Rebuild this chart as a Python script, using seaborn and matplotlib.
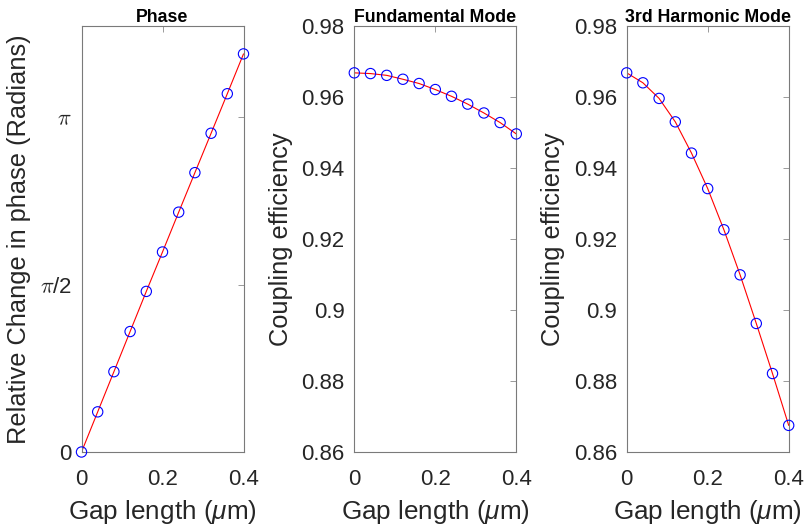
import numpy as np
import matplotlib
matplotlib.use("Agg")
import matplotlib.pyplot as plt
import seaborn as sns

# datos
gap = [0.0, 0.04, 0.08, 0.12, 0.16, 0.20, 0.24, 0.28, 0.32, 0.36, 0.40]
phase = [0.0, 0.377, 0.754, 1.131, 1.508, 1.878, 2.252, 2.623, 2.993, 3.364, 3.738]
fundamental = [0.9668, 0.9666, 0.9661, 0.9650, 0.9638, 0.9621, 0.9602, 0.9580, 0.9555, 0.9528, 0.9496]
harmonic3 = [0.9668, 0.9640, 0.9596, 0.9530, 0.9442, 0.9342, 0.9226, 0.9099, 0.8962, 0.8821, 0.8675]

titles = ["Phase", "Fundamental Mode", "3rd Harmonic Mode"]
xlabel = "Gap length ($\\mu$m)"
ylabels = ["Relative Change in phase (Radians)", "Coupling efficiency", "Coupling efficiency"]
phase_ticklabels = ["0", "$\\pi$/2", "$\\pi$"]
eff_ticks = [0.86, 0.88, 0.9, 0.92, 0.94, 0.96, 0.98]
eff_ticklabels = ["0.86", "0.88", "0.9", "0.92", "0.94", "0.96", "0.98"]

sns.set_theme(style="white")
plt.rcParams['font.family'] = ['Liberation Sans', 'DejaVu Sans']
plt.rcParams['mathtext.fontset'] = 'custom'
plt.rcParams['mathtext.rm'] = 'Liberation Sans'
plt.rcParams['mathtext.it'] = 'Liberation Sans:italic'

fig = plt.figure(figsize=(8.07, 5.25), dpi=100)
lefts = [81.5 / 807, 354.3 / 807, 626.7 / 807]
width = 162 / 807
bottom = 1 - 452 / 525
height = (452 - 26) / 525

series = [phase, fundamental, harmonic3]
text_col = "#262626"
for i, ys in enumerate(series):
    ax = fig.add_axes([lefts[i], bottom, width, height])
    sns.lineplot(x=gap, y=ys, ax=ax, color="red", linewidth=0.8)
    sns.scatterplot(x=gap, y=ys, ax=ax, marker="o", s=55, facecolors="none",
                    edgecolors="blue", linewidth=0.8, zorder=3, clip_on=False)
    ax.set_xlim(0, 0.4)
    ax.set_xticks([0, 0.2, 0.4])
    ax.set_xticklabels(["0", "0.2", "0.4"])
    if i == 0:
        ax.set_ylim(0, 4)
        ax.set_yticks([0, np.pi / 2, np.pi])
        ax.set_yticklabels(phase_ticklabels)
        # pi estilo TeX como en MATLAB
        for t in ax.get_yticklabels():
            t.set_math_fontfamily("cm")
    else:
        ax.set_ylim(0.86, 0.98)
        ax.set_yticks(eff_ticks)
        ax.set_yticklabels(eff_ticklabels)
    for sp in ax.spines.values():
        sp.set_color("#7a7a7a")
        sp.set_linewidth(0.8)
    ax.tick_params(direction="in", length=4, width=0.6, color="#8a8a8a",
                   top=True, right=True, labelsize=16, labelcolor=text_col, pad=7)
    ax.tick_params(axis="x", pad=12)
    ax.set_xlabel(xlabel, fontsize=18.8, color=text_col, labelpad=6)
    ax.set_ylabel(ylabels[i], fontsize=18.3, color=text_col, labelpad=6)
    ax.set_title(titles[i], fontsize=12.8, fontweight="bold", color="black", pad=3)

fig.savefig("out.png", dpi=100)
